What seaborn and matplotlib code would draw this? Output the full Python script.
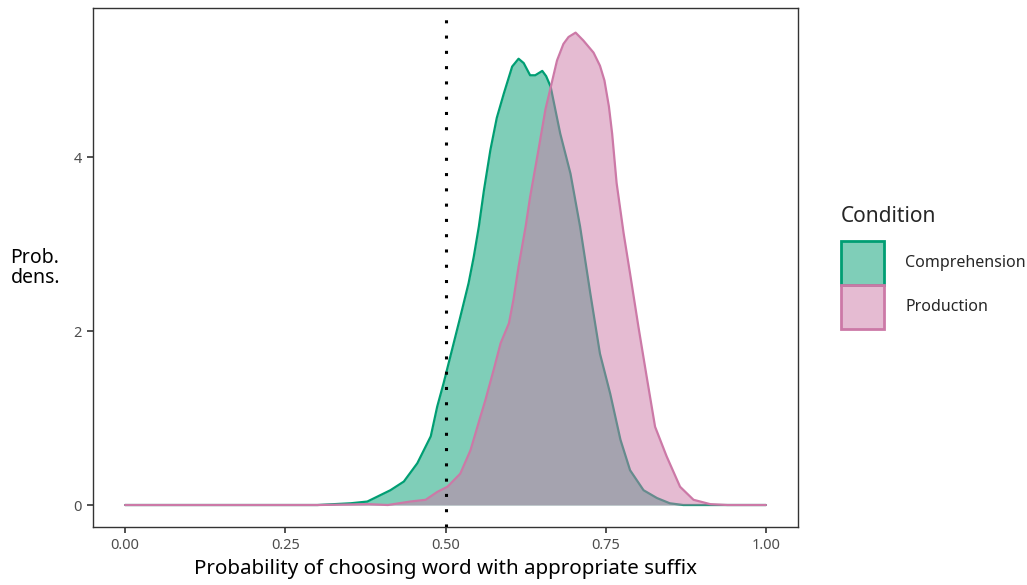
import numpy as np
import pandas as pd
import matplotlib
matplotlib.use("Agg")
import matplotlib.pyplot as plt
import seaborn as sns
from matplotlib.patches import Patch

# density curves
comp_x = [0.0, 0.30, 0.352, 0.378, 0.414, 0.435, 0.456, 0.477, 0.487, 0.497, 0.510, 0.523,
          0.536, 0.544, 0.552, 0.560, 0.570, 0.580, 0.591, 0.604, 0.614, 0.622, 0.632,
          0.640, 0.651, 0.657, 0.664, 0.679, 0.695, 0.710, 0.726, 0.741, 0.757, 0.773,
          0.788, 0.809, 0.830, 0.850, 0.871, 1.0]
comp_y = [0.0, 0.0, 0.02, 0.04, 0.17, 0.27, 0.48, 0.79, 1.13, 1.40, 1.78, 2.16,
          2.55, 2.85, 3.20, 3.62, 4.08, 4.45, 4.73, 5.04, 5.13, 5.08, 4.94,
          4.94, 4.99, 4.93, 4.81, 4.27, 3.81, 3.20, 2.43, 1.74, 1.28, 0.75,
          0.40, 0.17, 0.08, 0.02, 0.0, 0.0]

prod_x = [0.0, 0.30, 0.38, 0.41, 0.445, 0.469, 0.487, 0.503, 0.523, 0.539, 0.553, 0.562,
          0.575, 0.586, 0.599, 0.606, 0.614, 0.625, 0.632, 0.645, 0.656, 0.666, 0.674,
          0.684, 0.692, 0.703, 0.715, 0.731, 0.741, 0.748, 0.755, 0.760, 0.767, 0.778,
          0.788, 0.801, 0.814, 0.827, 0.845, 0.866, 0.887, 0.913, 0.94, 1.0]
prod_y = [0.0, 0.0, 0.01, 0.0, 0.04, 0.06, 0.15, 0.21, 0.36, 0.63, 0.98, 1.20,
          1.55, 1.86, 2.09, 2.36, 2.74, 3.20, 3.54, 4.08, 4.55, 4.86, 5.11,
          5.30, 5.38, 5.43, 5.34, 5.20, 5.05, 4.88, 4.58, 4.27, 3.70, 3.12,
          2.66, 2.05, 1.47, 0.90, 0.56, 0.21, 0.06, 0.01, 0.0, 0.0]

conditions = ["Comprehension", "Production"]
colors = {"Comprehension": "#009E73", "Production": "#CC79A7"}

df = pd.concat([
    pd.DataFrame({"x": comp_x, "y": comp_y, "Condition": "Comprehension"}),
    pd.DataFrame({"x": prod_x, "y": prod_y, "Condition": "Production"}),
])

sns.set_theme(style="white")
plt.rcParams["font.family"] = ["Noto Sans", "DejaVu Sans"]

fig = plt.figure(figsize=(10.27, 5.85), dpi=100)
ax = fig.add_axes([0.0906, 0.0991, 0.6864, 0.8872])

# fill then outline per group, production drawn over comprehension
z = 2
for cond in conditions:
    sub = df[df["Condition"] == cond]
    ax.fill_between(sub["x"], sub["y"], color=colors[cond], alpha=0.5, lw=0, zorder=z)
    sns.lineplot(data=sub, x="x", y="y", color=colors[cond], lw=1.6, ax=ax,
                 zorder=z + 1, sort=False, estimator=None)
    z += 2

ax.axvline(0.5, color="black", ls=(0, (1, 4)), lw=2.2, zorder=10)

ax.set_xlim(-0.05, 1.05)
ax.set_ylim(-0.253, 5.713)
ax.set_xticks([0, 0.25, 0.5, 0.75, 1.0])
ax.set_xticklabels(["0.00", "0.25", "0.50", "0.75", "1.00"])
ax.set_yticks([0, 2, 4])
ax.tick_params(axis="both", length=4, width=1.2, color="#333333",
               labelsize=10.5, labelcolor="#4d4d4d", pad=4)
ax.tick_params(axis="both", which="both", bottom=True, left=True)
for s in ax.spines.values():
    s.set_color("#333333")
    s.set_linewidth(1.0)

ax.set_xlabel("Probability of choosing word with appropriate suffix", fontsize=14.8,
              color="black", labelpad=4)
ax.set_ylabel("Prob.\ndens.", fontsize=14, rotation=0, ha="left", va="center",
              color="black", linespacing=1.0)
ax.yaxis.set_label_coords(-0.117, 0.5)

handles = [Patch(edgecolor=colors[c], lw=2,
                 facecolor=matplotlib.colors.to_rgba(colors[c], 0.5)) for c in conditions]
leg = fig.legend(handles, conditions, title="Condition", loc="upper left",
                 bbox_to_anchor=(0.819, 0.648), frameon=False, fontsize=11.5,
                 title_fontsize=15, handlelength=2.7, handleheight=3.85,
                 labelspacing=0.0, handletextpad=1.3, borderaxespad=0, borderpad=0)
leg._legend_box.align = "left"
leg._legend_box.sep = 10

fig.savefig("out.png", dpi=100)
